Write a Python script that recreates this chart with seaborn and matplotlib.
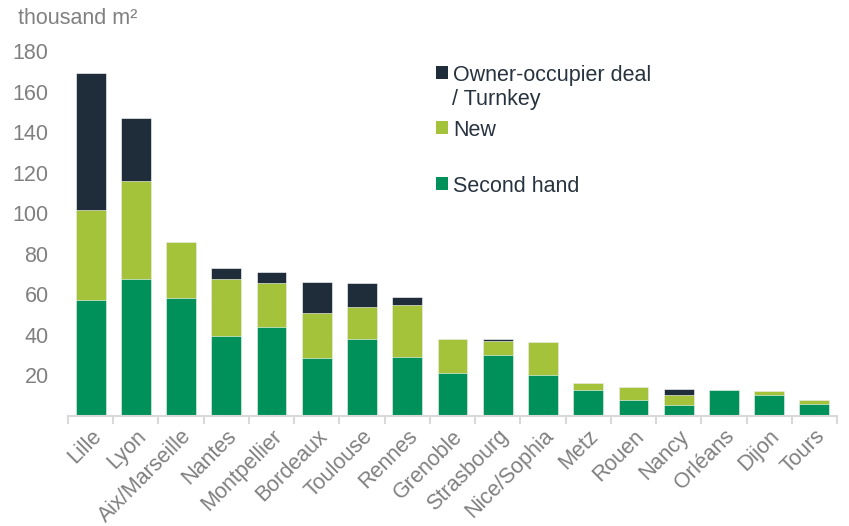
import numpy as np
import matplotlib
matplotlib.use("Agg")
import matplotlib.pyplot as plt
from matplotlib.patches import Patch
import seaborn as sns

# dados (milhares de m2)
cidades = ["Lille", "Lyon", "Aix/Marseille", "Nantes", "Montpellier", "Bordeaux",
           "Toulouse", "Rennes", "Grenoble", "Strasbourg", "Nice/Sophia", "Metz",
           "Rouen", "Nancy", "Orléans", "Dijon", "Tours"]
second_hand = [57.0, 67.7, 58.4, 39.3, 44.1, 28.5, 38.2, 29.3, 21.1, 30.0, 20.1,
               12.8, 8.0, 5.4, 12.6, 10.3, 5.9]
new = [44.6, 48.0, 27.6, 28.3, 21.3, 22.4, 15.8, 25.2, 17.1, 6.9, 16.6,
       3.7, 6.2, 4.9, 0.3, 1.8, 1.8]
owner = [67.4, 31.2, 0.0, 5.2, 5.8, 15.4, 11.6, 4.4, 0.0, 1.0, 0.0,
         0.0, 0.0, 3.1, 0.0, 0.0, 0.0]
yticks = [20, 40, 60, 80, 100, 120, 140, 160, 180]

cor_owner = "#1f2d3a"
cor_new = "#a5c33a"
cor_second = "#00915a"
cinza = "#808080"
texto_escuro = "#27333f"
fs = 15.5

sns.set_style("white")
plt.rcParams["font.family"] = ["Liberation Sans", "DejaVu Sans"]

sh = np.array(second_hand)
nw = sh + np.array(new)
total = nw + np.array(owner)

fig = plt.figure(figsize=(8.49, 5.26), dpi=100)
ax = fig.add_axes([68 / 849, 1 - 416 / 526, (837 - 68) / 849, (416 - 51) / 526])

# barras empilhadas: total por baixo, depois parciais por cima
for valores, cor in [(total, cor_owner), (nw, cor_new), (sh, cor_second)]:
    sns.barplot(x=cidades, y=valores, color=cor, saturation=1, width=0.66,
                edgecolor="white", linewidth=0.4, ax=ax)

ax.set_xlim(-0.5, len(cidades) - 0.5)
ax.set_ylim(0, 180)
ax.set_yticks(yticks)
ax.set_yticklabels([str(v) for v in yticks], fontsize=fs, color=cinza)
ax.tick_params(axis="y", length=0, pad=14)

ax.set_xticks(range(len(cidades)))
ax.set_xticklabels(cidades, rotation=45, ha="right", rotation_mode="anchor",
                   fontsize=fs, color=cinza)
ax.set_xticks(np.arange(-0.5, len(cidades), 1), minor=True)
ax.tick_params(axis="x", which="major", length=0, pad=7)
ax.tick_params(axis="x", which="minor", length=6, width=1.5, color="#d9d9d9",
               direction="out", bottom=True)
ax.set_xlabel("")
ax.set_ylabel("")

for lado in ["top", "right", "left"]:
    ax.spines[lado].set_visible(False)
ax.spines["bottom"].set_color("#d9d9d9")
ax.spines["bottom"].set_linewidth(1.5)

fig.text(18 / 849, 1 - 18 / 526, "thousand m²", fontsize=fs, color=cinza,
         ha="left", va="center")

# legenda
entradas = [("Owner-occupier deal", cor_owner, 75),
            ("New", cor_new, 130),
            ("Second hand", cor_second, 186)]
for rotulo, cor, y in entradas:
    leg = fig.legend(handles=[Patch(facecolor=cor, edgecolor="none", label=rotulo)],
                     loc="center left", bbox_to_anchor=(436 / 849, 1 - y / 526),
                     frameon=False, fontsize=fs, handlelength=0.55,
                     handleheight=0.55, handletextpad=0.25, borderpad=0,
                     borderaxespad=0)
    for t in leg.get_texts():
        t.set_color(texto_escuro)
fig.text(452 / 849, 1 - 100 / 526, "/ Turnkey", fontsize=fs, color=texto_escuro,
         ha="left", va="center")

fig.savefig("out.png", dpi=100)
